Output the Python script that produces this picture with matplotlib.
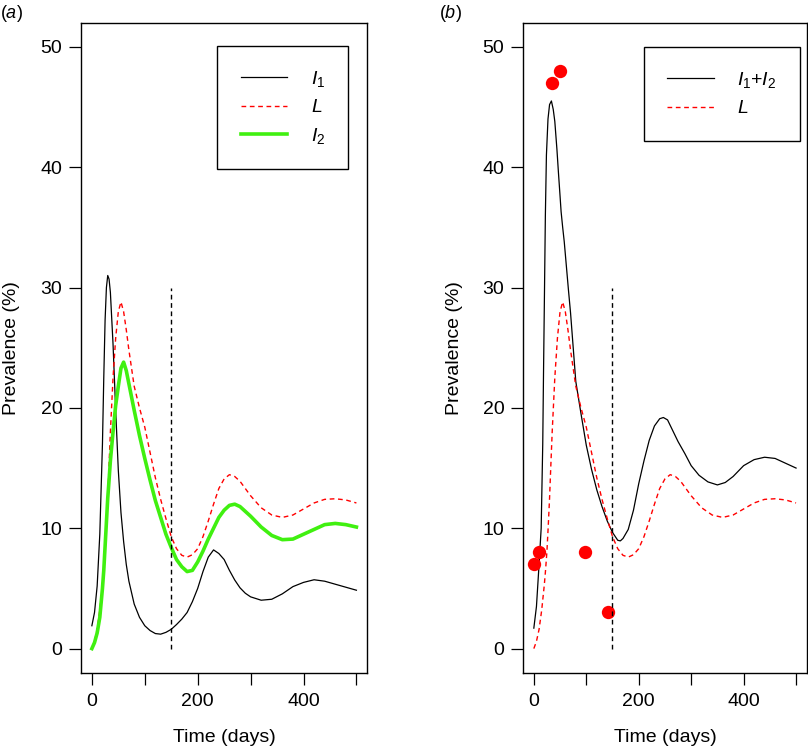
#!/usr/bin/env python3
# coding: utf-8
"""
Two-panel prevalence plot (R base-graphics look):
(a) I1, L, I2 model curves; (b) I1+I2 and L with observed points.
"""

import matplotlib
matplotlib.use("Agg")
import matplotlib.pyplot as plt

plt.rcParams["font.family"] = ["Liberation Sans", "DejaVu Sans"]
plt.rcParams["mathtext.fontset"] = "custom"
plt.rcParams["mathtext.rm"] = "Liberation Sans"
plt.rcParams["mathtext.it"] = "Liberation Sans:italic"

# -------- 0. data --------------------------------
DAYS = [0, 5, 10, 15, 20, 22.5, 25, 27.5, 30, 32.5, 35, 40, 45, 50, 55, 60,
        65, 70, 80, 90, 100, 110, 120, 130, 140, 150, 160, 170, 180, 190, 200,
        210, 220, 230, 240, 250, 260, 270, 280, 290, 300, 320, 340, 360, 380,
        400, 420, 440, 460, 480, 500]
I1 = [1.9, 3.0, 5.2, 9.5, 17.0, 22.5, 27.3, 30.0, 31.0, 30.7, 29.6, 25.3,
      19.8, 14.8, 11.3, 8.9, 7.0, 5.6, 3.7, 2.6, 1.9, 1.5, 1.25, 1.2, 1.35,
      1.6, 2.0, 2.45, 3.0, 3.9, 5.0, 6.4, 7.6, 8.2, 7.9, 7.4, 6.5, 5.7, 5.05,
      4.6, 4.3, 4.02, 4.1, 4.55, 5.15, 5.5, 5.72, 5.6, 5.35, 5.1, 4.85]
L = [0.0, 0.6, 1.6, 3.2, 5.3, 6.6, 8.1, 10.2, 12.5, 15.3, 18.0, 22.5, 25.8,
     28.0, 28.8, 28.0, 26.5, 24.8, 21.8, 20.0, 18.4, 16.3, 14.2, 12.4, 10.8,
     9.3, 8.3, 7.75, 7.6, 7.8, 8.3, 9.3, 10.6, 12.0, 13.3, 14.1, 14.45, 14.3,
     13.9, 13.3, 12.7, 11.7, 11.1, 10.9, 11.1, 11.6, 12.1, 12.4, 12.45,
     12.35, 12.1]
I2 = [0.0, 0.5, 1.3, 2.6, 5.0, 6.5, 8.5, 10.5, 12.5, 14.0, 15.6, 18.0, 20.2,
      21.8, 23.3, 23.8, 23.1, 22.0, 19.8, 17.7, 15.8, 14.0, 12.3, 10.9, 9.5,
      8.4, 7.4, 6.8, 6.4, 6.5, 7.2, 8.1, 9.1, 10.0, 10.9, 11.5, 11.9, 12.0,
      11.8, 11.4, 11.0, 10.1, 9.4, 9.05, 9.1, 9.5, 9.9, 10.3, 10.4, 10.3,
      10.1]

DAYS_B = [0, 5, 10, 14, 17, 18.5, 20, 22, 24, 27, 30, 33.5, 37, 40, 44, 47,
          50, 52, 55, 58, 62, 66, 70, 80, 90, 100, 110, 120, 130, 140, 150,
          160, 165, 170, 180, 190, 200, 210, 220, 230, 240, 247, 255, 265,
          275, 288, 300, 315, 332, 350, 365, 380, 400, 420, 440, 460, 480, 500]
I_TOTAL = [1.7, 3.5, 7.0, 10.0, 17.0, 23.0, 28.5, 36.0, 41.0, 44.0, 45.2,
           45.5, 44.8, 43.8, 41.5, 39.5, 37.6, 36.3, 35.0, 33.8, 31.8, 29.8,
           27.9, 22.2, 19.5, 16.9, 14.9, 13.2, 11.8, 10.6, 9.65, 9.0, 8.95,
           9.15, 9.9, 11.5, 13.7, 15.6, 17.3, 18.5, 19.1, 19.2, 19.0, 18.1,
           17.2, 16.2, 15.2, 14.4, 13.85, 13.6, 13.8, 14.3, 15.2, 15.7, 15.9,
           15.8, 15.4, 15.0]

OBS_DAYS = [0, 9, 34, 49, 97, 142]
OBS_PREV = [7, 8, 47, 48, 8, 3]

TREAT_DAY = 150
X_TICKS = [0, 100, 200, 300, 400, 500]
X_TICK_LABELS = ["0", "", "200", "", "400", ""]
Y_TICKS = [0, 10, 20, 30, 40, 50]

GREEN = "#40f010"
DASH = (3.4, 2.6)
FS = 14


# -------- 1. axes look ----------
def style_axes(ax):
    ax.set_xlim(-20, 520)
    ax.set_ylim(-2, 52)
    ax.set_xticks(X_TICKS)
    ax.set_xticklabels(X_TICK_LABELS)
    ax.set_yticks(Y_TICKS)
    ax.tick_params(direction="out", length=8.6, width=0.9, labelsize=FS,
                   colors="black")
    ax.tick_params(axis="x", pad=6)
    ax.tick_params(axis="y", pad=5)
    for s in ax.spines.values():
        s.set_linewidth(1.0)
    ax.vlines(TREAT_DAY, 0, 30, colors="black", linewidth=1.0,
              linestyles=(0, DASH))


def add_legend(ax, anchor):
    leg = ax.legend(loc="upper right", bbox_to_anchor=anchor,
                    borderaxespad=0, fancybox=False, framealpha=1,
                    edgecolor="black", fontsize=FS, handlelength=2.4,
                    handletextpad=1.2, borderpad=1.2, labelspacing=0.5)
    leg.get_frame().set_linewidth(1.0)


# -------- 2. figure ----------
fig = plt.figure(figsize=(8.08, 7.5), dpi=100)
ax_a = fig.add_axes([0.1006, 0.1031, 0.3536, 0.8666])
ax_b = fig.add_axes([0.6477, 0.1031, 0.3505, 0.8666])

# (a)
ax_a.plot(DAYS, I1, color="black", linewidth=0.9, label=r"$\mathit{I}_{1}$")
ax_a.plot(DAYS, L, color="red", linewidth=1.0, dashes=DASH, label=r"$\mathit{L}$")
ax_a.plot(DAYS, I2, color=GREEN, linewidth=2.6, label=r"$\mathit{I}_{2}$")
style_axes(ax_a)
add_legend(ax_a, (0.9345, 0.9646))

# (b)
ax_b.plot(DAYS_B, I_TOTAL, color="black", linewidth=0.9,
          label=r"$\mathit{I}_{1}$+$\mathit{I}_{2}$")
ax_b.plot(DAYS, L, color="red", linewidth=1.0, dashes=DASH, label=r"$\mathit{L}$")
ax_b.plot(OBS_DAYS, OBS_PREV, "o", color="red", markersize=9.6,
          markeredgewidth=0, clip_on=False)
style_axes(ax_b)
add_legend(ax_b, (0.9768, 0.963))

# labels
for ax, x_lab, x_ylab, tag, x_tag in [(ax_a, 224, 12, "a", 11),
                                      (ax_b, 665, 455, "b", 450)]:
    fig.text(x_lab / 808, 1 - 737 / 750, "Time (days)", fontsize=FS,
             ha="center", va="center")
    fig.text(x_ylab / 808, 1 - 348 / 750, "Prevalence (%)", fontsize=FS,
             rotation=90, ha="center", va="center")
    fig.text(x_tag / 808, 1 - 14 / 750, "(" + r"$\mathit{" + tag + "}$" + ")",
             fontsize=13, ha="center", va="center")

fig.savefig("out.png", dpi=100)
